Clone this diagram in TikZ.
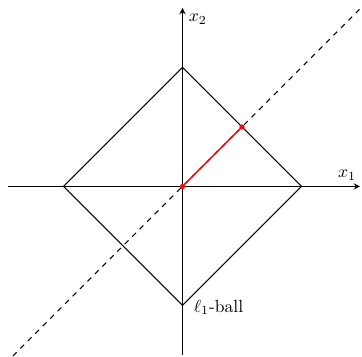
\documentclass[tikz,border=0pt]{standalone}
\usepackage{tikz}

\begin{document}
\begin{tikzpicture}[semithick, >=stealth, dot/.style={circle, fill=red, inner sep=0pt, minimum size=3pt}]
 \useasboundingbox (-3.65, -3.41) rectangle (3.59, 3.73);
 % axes
 \coordinate (xl) at (-3.49, 0);
 \coordinate (xr) at (3.55, 0);
 \coordinate (yb) at (0, -3.37);
 \coordinate (yt) at (0, 3.57);
 \draw[->] (xl) -- (xr) node[above left, xshift=0.05cm] (xlab) {$x_1$};
 \draw[->] (yb) -- (yt) node[below right] (ylab) {$x_2$};

 % the ball
 \coordinate (r) at (2.38, 0);
 \coordinate (t) at (0, 2.38);
 \coordinate (l) at (-2.38, 0);
 \coordinate (b) at (0, -2.38);
 \draw (r) -- (t) -- (l) -- (b) -- cycle;
 \node[right, xshift=0.1cm, yshift=-0.04cm] (ball) at (b) {$\ell_1$-ball};

 % line through the corner
 \coordinate (dl) at (-3.39, -3.39);
 \coordinate (dr) at (3.54, 3.54);
 \draw[dashed] (dl) -- (dr);

 \node[dot] (O) at (0, 0) {};
 \node[dot] (P) at (1.19, 1.19) {};
 \draw[red, thick] (O) -- (P);
\end{tikzpicture}
\end{document}
